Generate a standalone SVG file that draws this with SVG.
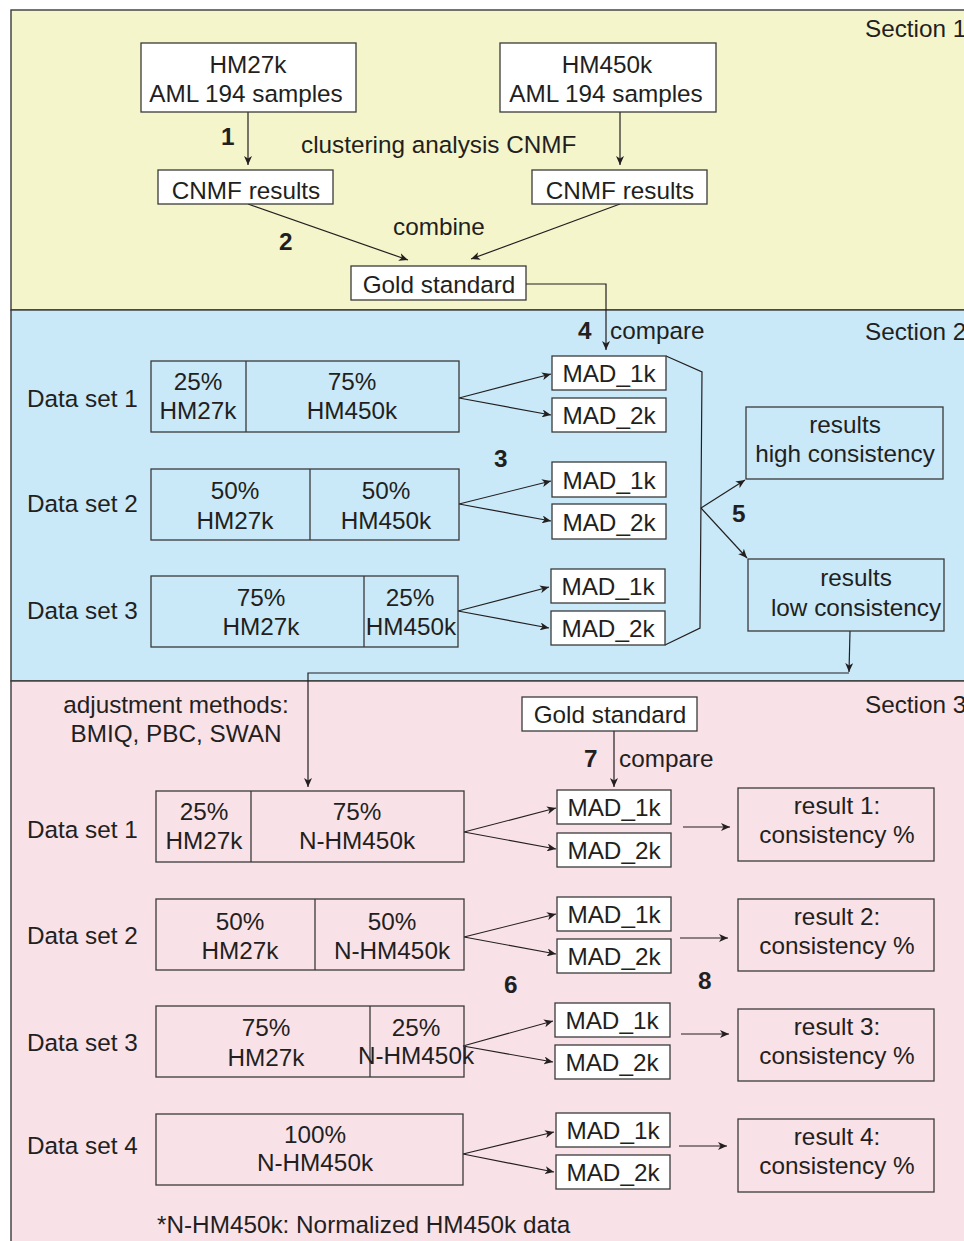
<svg xmlns="http://www.w3.org/2000/svg" width="964" height="1241" viewBox="0 0 964 1241">
<defs>
<marker id="ah" markerUnits="userSpaceOnUse" markerWidth="10" markerHeight="8" refX="9" refY="4" orient="auto">
<path d="M0,0 L9,4 L0,8 L2.5,4 Z" fill="#231f20"/>
</marker>
</defs>
<style>
text{font-family:"Liberation Sans",Arial,sans-serif;font-size:24.3px;fill:#231f20}
.c{text-anchor:middle}
.b{font-weight:bold}
.box{fill:#ffffff;stroke:#3a3a3a;stroke-width:1.3}
.ds{fill:none;stroke:#3a3a3a;stroke-width:1.3}
.sec{stroke:#3a3a3a;stroke-width:1.4}
.ln{fill:none;stroke:#231f20;stroke-width:1.2}
.ar{fill:none;stroke:#231f20;stroke-width:1.2;marker-end:url(#ah)}
</style>
<rect width="964" height="1241" fill="#ffffff"/>
<g id="section1"><rect class="sec" x="11" y="10" width="1000" height="300" fill="#f5f5cc"/><text x="865" y="37">Section 1</text></g>
<g id="section2"><rect class="sec" x="11" y="310" width="1000" height="371" fill="#c9e9f8"/><text x="865" y="340">Section 2</text></g>
<g id="section3"><rect class="sec" x="11" y="681" width="1000" height="600" fill="#f9e1e8"/><text x="865" y="713">Section 3</text></g>

<g id="connectors">
<path class="ar" d="M248,112 V165"/>
<path class="ar" d="M620,112 V165"/>
<path class="ar" d="M248,204 L408,260"/>
<path class="ar" d="M620,204 L471,259"/>
<path class="ar" d="M526,284 H606 V350"/>
<path class="ar" d="M459,398 L551,374"/>
<path class="ar" d="M459,398 L551,415"/>
<path class="ar" d="M459,504 L551,481"/>
<path class="ar" d="M459,504 L551,521"/>
<path class="ar" d="M458,611 L549,587"/>
<path class="ar" d="M458,611 L549,628"/>
<path class="ln" d="M666,356 L702,372 L700,628 L665,645"/>
<path class="ar" d="M701,508 L745,480"/>
<path class="ar" d="M701,508 L747,558"/>
<path class="ar" d="M850,631 L849,672"/>
<path class="ar" d="M849,673 H308 V787"/>
<path class="ar" d="M614,731 V787"/>
<path class="ar" d="M464,832 L556,808"/>
<path class="ar" d="M464,832 L556,849"/>
<path class="ar" d="M464,937 L556,914"/>
<path class="ar" d="M464,937 L556,954"/>
<path class="ar" d="M463,1046 L553,1021"/>
<path class="ar" d="M463,1046 L553,1062"/>
<path class="ar" d="M463,1154 L554,1132"/>
<path class="ar" d="M463,1154 L554,1172"/>
<path class="ar" d="M683,827 H730"/>
<path class="ar" d="M680,938 H728"/>
<path class="ar" d="M681,1034 H729"/>
<path class="ar" d="M679,1146 H727"/>
</g>

<g id="labels">
<text class="b" x="221" y="145">1</text>
<text x="301" y="153">clustering analysis CNMF</text>
<text class="b" x="279" y="250">2</text>
<text x="393" y="235">combine</text>
<text class="b" x="578" y="339">4</text>
<text x="610" y="339">compare</text>
<text class="b" x="494" y="467">3</text>
<text class="b" x="732" y="522">5</text>
<text x="176" y="713" class="c">adjustment methods:</text>
<text x="176" y="742" class="c">BMIQ, PBC, SWAN</text>
<text class="b" x="584" y="767">7</text>
<text x="619" y="767">compare</text>
<text class="b" x="504" y="993">6</text>
<text class="b" x="698" y="989">8</text>
<text x="157" y="1233">*N-HM450k: Normalized HM450k data</text>
</g>

<g id="hm27k"><rect class="box" x="141" y="43" width="215" height="69"/><text class="c" x="248" y="73">HM27k</text><text class="c" x="246" y="102">AML 194 samples</text></g>
<g id="hm450k"><rect class="box" x="500" y="43" width="216" height="69"/><text class="c" x="607" y="73">HM450k</text><text class="c" x="606" y="102">AML 194 samples</text></g>
<g id="cnmf1"><rect class="box" x="158" y="170" width="175" height="34"/><text class="c" x="246" y="199">CNMF results</text></g>
<g id="cnmf2"><rect class="box" x="532" y="170" width="175" height="34"/><text class="c" x="620" y="199">CNMF results</text></g>
<g id="gold1"><rect class="box" x="351" y="266" width="175" height="34"/><text class="c" x="439" y="293">Gold standard</text></g>

<g id="s2ds1"><text x="27" y="407">Data set 1</text><rect class="ds" x="151" y="361" width="308" height="71"/><path class="ds" d="M246,361 V432"/><text class="c" x="198" y="390">25%</text><text class="c" x="198" y="419">HM27k</text><text class="c" x="352" y="390">75%</text><text class="c" x="352" y="419">HM450k</text></g>
<g id="s2ds2"><text x="27" y="512">Data set 2</text><rect class="ds" x="151" y="469" width="308" height="71"/><path class="ds" d="M310,469 V540"/><text class="c" x="235" y="499">50%</text><text class="c" x="235" y="529">HM27k</text><text class="c" x="386" y="499">50%</text><text class="c" x="386" y="529">HM450k</text></g>
<g id="s2ds3"><text x="27" y="619">Data set 3</text><rect class="ds" x="151" y="576" width="307" height="71"/><path class="ds" d="M364,576 V647"/><text class="c" x="261" y="606">75%</text><text class="c" x="261" y="635">HM27k</text><text class="c" x="410" y="606">25%</text><text class="c" x="411" y="635">HM450k</text></g>

<g id="s2mad"><rect class="box" x="552" y="356" width="114" height="34"/><text class="c" x="609" y="382">MAD_1k</text>
<rect class="box" x="552" y="398" width="114" height="34"/><text class="c" x="609" y="424">MAD_2k</text>
<rect class="box" x="552" y="462" width="114" height="35"/><text class="c" x="609" y="489">MAD_1k</text>
<rect class="box" x="552" y="504" width="114" height="35"/><text class="c" x="609" y="531">MAD_2k</text>
<rect class="box" x="551" y="569" width="114" height="34"/><text class="c" x="608" y="595">MAD_1k</text>
<rect class="box" x="551" y="611" width="114" height="34"/><text class="c" x="608" y="637">MAD_2k</text></g>

<g id="high"><rect class="ds" x="746" y="407" width="197" height="72"/><text class="c" x="845" y="433">results</text><text class="c" x="845" y="462">high consistency</text></g>
<g id="low"><rect class="ds" x="748" y="559" width="196" height="72"/><text class="c" x="856" y="586">results</text><text class="c" x="856" y="616">low consistency</text></g>

<g id="gold2"><rect class="box" x="522" y="697" width="175" height="34"/><text class="c" x="610" y="723">Gold standard</text></g>

<g id="s3ds1"><text x="27" y="838">Data set 1</text><rect class="ds" x="156" y="791" width="308" height="71"/><path class="ds" d="M251,791 V862"/><text class="c" x="204" y="820">25%</text><text class="c" x="204" y="849">HM27k</text><text class="c" x="357" y="820">75%</text><text class="c" x="357" y="849">N-HM450k</text></g>
<g id="s3ds2"><text x="27" y="944">Data set 2</text><rect class="ds" x="156" y="899" width="308" height="71"/><path class="ds" d="M315,899 V970"/><text class="c" x="240" y="930">50%</text><text class="c" x="240" y="959">HM27k</text><text class="c" x="392" y="930">50%</text><text class="c" x="392" y="959">N-HM450k</text></g>
<g id="s3ds3"><text x="27" y="1051">Data set 3</text><rect class="ds" x="156" y="1006" width="308" height="71"/><path class="ds" d="M370,1006 V1077"/><text class="c" x="266" y="1036">75%</text><text class="c" x="266" y="1066">HM27k</text><text class="c" x="416" y="1036">25%</text><text class="c" x="416" y="1064">N-HM450k</text></g>
<g id="s3ds4"><text x="27" y="1154">Data set 4</text><rect class="ds" x="156" y="1114" width="307" height="71"/><text class="c" x="315" y="1143">100%</text><text class="c" x="315" y="1171">N-HM450k</text></g>

<g id="s3mad"><rect class="box" x="557" y="790" width="114" height="34"/><text class="c" x="614" y="816">MAD_1k</text>
<rect class="box" x="557" y="833" width="114" height="34"/><text class="c" x="614" y="859">MAD_2k</text>
<rect class="box" x="557" y="897" width="114" height="34"/><text class="c" x="614" y="923">MAD_1k</text>
<rect class="box" x="557" y="939" width="114" height="34"/><text class="c" x="614" y="965">MAD_2k</text>
<rect class="box" x="555" y="1003" width="115" height="34"/><text class="c" x="612" y="1029">MAD_1k</text>
<rect class="box" x="555" y="1045" width="115" height="34"/><text class="c" x="612" y="1071">MAD_2k</text>
<rect class="box" x="556" y="1113" width="114" height="34"/><text class="c" x="613" y="1139">MAD_1k</text>
<rect class="box" x="556" y="1155" width="114" height="34"/><text class="c" x="613" y="1181">MAD_2k</text></g>

<g id="r1"><rect class="ds" x="738" y="788" width="196" height="73"/><text class="c" x="837" y="814">result 1:</text><text class="c" x="837" y="843">consistency %</text></g>
<g id="r2"><rect class="ds" x="738" y="899" width="196" height="72"/><text class="c" x="837" y="925">result 2:</text><text class="c" x="837" y="954">consistency %</text></g>
<g id="r3"><rect class="ds" x="738" y="1009" width="196" height="72"/><text class="c" x="837" y="1035">result 3:</text><text class="c" x="837" y="1064">consistency %</text></g>
<g id="r4"><rect class="ds" x="738" y="1119" width="196" height="73"/><text class="c" x="837" y="1145">result 4:</text><text class="c" x="837" y="1174">consistency %</text></g>
</svg>
